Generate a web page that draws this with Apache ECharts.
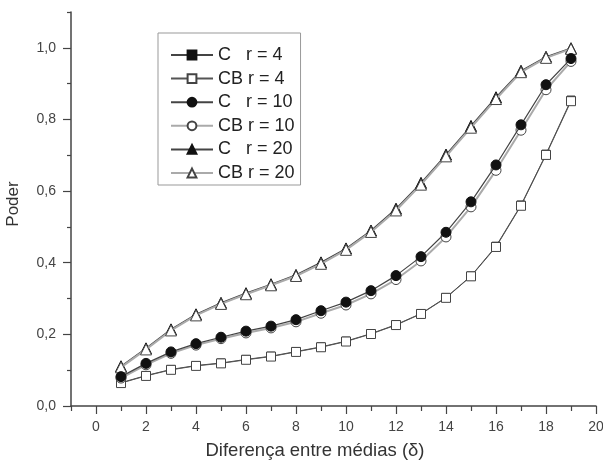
<!DOCTYPE html>
<html>
<head>
<meta charset="utf-8">
<script src="https://cdn.jsdelivr.net/npm/echarts@6/dist/echarts.min.js"></script>
<style>
	html, body { margin: 0; padding: 0; background: #fff; }
	#chart { width: 603px; height: 460px; }
</style>
</head>
<body>
<div id="chart"></div>
<script>
// diferenca entre medias
var delta = [1, 2, 3, 4, 5, 6, 7, 8, 9, 10, 11, 12, 13, 14, 15, 16, 17, 18, 19];

var c_r4 = [0.065, 0.085, 0.102, 0.113, 0.120, 0.130, 0.139, 0.152, 0.165, 0.181, 0.202, 0.227, 0.258, 0.303, 0.363, 0.446, 0.561, 0.703, 0.854];
var cb_r4 = [0.064, 0.084, 0.101, 0.112, 0.119, 0.129, 0.138, 0.151, 0.164, 0.180, 0.201, 0.226, 0.257, 0.302, 0.362, 0.444, 0.559, 0.701, 0.851];
var c_r10 = [0.082, 0.119, 0.151, 0.174, 0.192, 0.209, 0.223, 0.241, 0.266, 0.290, 0.322, 0.364, 0.417, 0.485, 0.570, 0.673, 0.785, 0.897, 0.970];
var cb_r10 = [0.078, 0.115, 0.147, 0.170, 0.188, 0.204, 0.218, 0.235, 0.259, 0.282, 0.313, 0.353, 0.405, 0.472, 0.556, 0.658, 0.770, 0.883, 0.962];
var c_r20 = [0.111, 0.161, 0.214, 0.256, 0.288, 0.315, 0.340, 0.366, 0.401, 0.440, 0.490, 0.551, 0.623, 0.702, 0.782, 0.862, 0.936, 0.975, 0.999];
var cb_r20 = [0.108, 0.158, 0.211, 0.253, 0.285, 0.312, 0.337, 0.363, 0.397, 0.436, 0.486, 0.546, 0.618, 0.697, 0.777, 0.857, 0.932, 0.972, 0.997];

var nomes = ['C   r = 4', 'CB r = 4', 'C   r = 10', 'CB r = 10', 'C   r = 20', 'CB r = 20'];

// marcas dos eixos
var x_maiores = [0, 2, 4, 6, 8, 10, 12, 14, 16, 18, 20];
var x_menores = [-1, 1, 3, 5, 7, 9, 11, 13, 15, 17, 19];
var y_maiores = [0, 0.2, 0.4, 0.6, 0.8, 1.0];
var y_menores = [0.1, 0.3, 0.5, 0.7, 0.9, 1.1];

function pares(ys) {
	return delta.map(function (x, i) { return [x, ys[i]]; });
}

var chartDom = document.getElementById('chart');
var myChart = echarts.init(chartDom);
var option;

var fonte = 'Liberation Sans, Arial, sans-serif';
var corEixo = '#444';

function serie(nome, ys, simbolo, tamanho, cheio, linha, z) {
	return {
		name: nome,
		type: 'line',
		data: pares(ys),
		symbol: simbolo,
		symbolSize: tamanho,
		showAllSymbol: true,
		z: z,
		lineStyle: { color: linha.color, width: linha.width },
		itemStyle: cheio
			? { color: '#111', borderColor: '#111', borderWidth: 1 }
			: { color: '#fff', borderColor: '#444', borderWidth: 1 },
		emphasis: { disabled: true },
		animation: false,
	};
}

option = {
	backgroundColor: '#fff',
	grid: { left: 71, right: 7, top: 12, bottom: 54, containLabel: false, outerBoundsMode: 'none' },
	legend: {
		orient: 'vertical',
		left: 158,
		top: 33,
		padding: [13, 6, 3, 12],
		borderColor: '#999',
		borderWidth: 1,
		itemWidth: 42,
		itemHeight: 11,
		itemGap: 5.6,
		textStyle: { fontFamily: fonte, fontSize: 18, color: '#222' },
		data: nomes,
	},
	xAxis: [
		{
			type: 'value',
			min: -1,
			max: 20,
			name: 'Diferença entre médias (δ)',
			nameLocation: 'middle',
			nameGap: 35,
			nameTextStyle: { fontFamily: fonte, fontSize: 18.5, color: '#333', padding: [0, 37, 0, 0] },
			axisLine: { onZero: false, lineStyle: { color: corEixo, width: 1.5 } },
			axisTick: { customValues: x_maiores, length: 8, lineStyle: { color: corEixo, width: 1.2 } },
			axisLabel: {
				customValues: x_maiores,
				fontFamily: fonte,
				fontSize: 14,
				color: '#444',
				margin: 14,
			},
			splitLine: { show: false },
		},
		{
			type: 'value',
			min: -1,
			max: 20,
			position: 'bottom',
			axisLine: { show: false, onZero: false },
			axisTick: { show: true, customValues: x_menores, length: 5, lineStyle: { color: corEixo, width: 1.2 } },
			axisLabel: { show: false },
			splitLine: { show: false },
		},
	],
	yAxis: [
		{
			type: 'value',
			min: 0,
			max: 1.1,
			name: 'Poder',
			nameLocation: 'middle',
			nameGap: 49,
			nameTextStyle: { fontFamily: fonte, fontSize: 17, color: '#333', padding: [0, 0, 0, 10] },
			axisLine: { show: true, onZero: false, lineStyle: { color: corEixo, width: 1.5 } },
			axisTick: { show: true, customValues: y_maiores, length: 8, lineStyle: { color: corEixo, width: 1.2 } },
			axisLabel: {
				customValues: y_maiores,
				fontFamily: fonte,
				fontSize: 14,
				color: '#444',
				margin: 15,
				formatter: function (v) {
					return v.toFixed(1).replace('.', ',');
				},
			},
			splitLine: { show: false },
		},
		{
			type: 'value',
			min: 0,
			max: 1.1,
			position: 'left',
			axisLine: { show: false, onZero: false },
			axisTick: { show: true, customValues: y_menores, length: 4, lineStyle: { color: corEixo, width: 1.2 } },
			axisLabel: { show: false },
			splitLine: { show: false },
		},
	],
	series: [
		serie(nomes[0], c_r4, 'rect', 8, true, { color: '#444', width: 1 }, 2),
		serie(nomes[1], cb_r4, 'rect', 9, false, { color: '#555', width: 1 }, 3),
		serie(nomes[2], c_r10, 'circle', 10, true, { color: '#444', width: 1.2 }, 4),
		serie(nomes[3], cb_r10, 'circle', 10, false, { color: '#aaa', width: 2 }, 3),
		serie(nomes[4], c_r20, 'triangle', 11, true, { color: '#444', width: 1.2 }, 2),
		serie(nomes[5], cb_r20, 'triangle', 11, false, { color: '#aaa', width: 2 }, 3),
	],
};

myChart.setOption(option);
window.addEventListener('resize', function () {
	myChart.resize();
});
</script>
</body>
</html>
